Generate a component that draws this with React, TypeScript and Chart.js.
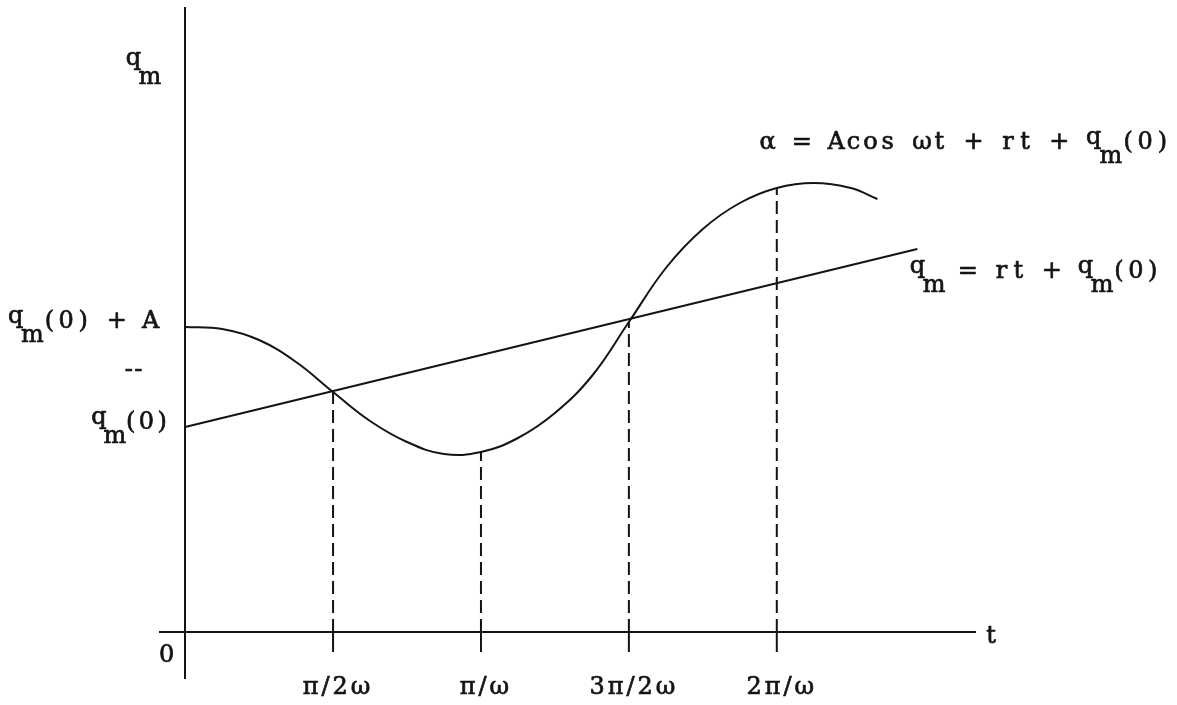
import React, { useEffect, useRef } from "react";
import { Chart, registerables } from "chart.js";

Chart.register(...registerables);

// Time is measured in quarter periods: 1 unit on the t axis = π/2ω.
const curveT = [0, 0.25, 0.5, 0.75, 1, 1.25, 1.5, 1.75, 2, 2.25, 2.5, 2.75, 3, 3.25, 3.5, 3.75, 4, 4.25, 4.5, 4.68];
const curveQ = [3.05, 3.03, 2.92, 2.7, 2.4, 2.11, 1.9, 1.78, 1.8, 1.94, 2.19, 2.56, 3.1, 3.64, 4.03, 4.29, 4.44, 4.49, 4.44, 4.33];

// Straight ramp q_m = rt + q_m(0)
const rampT = [0, 4.95];
const rampQ = [2.05, 3.83];

// Marked instants on the t axis and their labels
const markT = [1, 2, 3, 4];
const markLabels = ["π/2ω", "π/ω", "3π/2ω", "2π/ω"];

// Reference levels named on the q axis
const qStart = 2.05; // q_m(0)
const amplitude = 1.0; // A

const tRange = [-0.17, 5.34];
const qRange = [-0.46, 6.24];
const stubDepth = 0.2;

const INK = "#141414";
const FONT_FAMILY = "'DejaVu Serif', serif";
const FONT_SIZE = 24;
const TICK_SPACING = "3px";
const TEXT_WEIGHT = 0.7; // extra stroke that thickens the typed glyphs

type Run = { text: string; shift: number };

// Typewriter-style runs: q is set half a notch up, the subscript m a notch down.
const qm = (): Run[] => [
  { text: "q", shift: -5 },
  { text: "m", shift: 14 },
];

// Sets every character in its own cell of equal pitch, like a typewriter.
function drawRuns(
  ctx: CanvasRenderingContext2D,
  runs: Run[],
  left: number,
  right: number,
  baseline: number
) {
  const count = runs.reduce((s, r) => s + Array.from(r.text).length, 0);
  const pitch = (right - left) / count;
  ctx.textAlign = "center";
  let cell = 0;
  runs.forEach((r) => {
    Array.from(r.text).forEach((ch) => {
      if (ch !== " ") {
        const cx = left + (cell + 0.5) * pitch;
        ctx.strokeText(ch, cx, baseline + r.shift);
        ctx.fillText(ch, cx, baseline + r.shift);
      }
      cell += 1;
    });
  });
}

const annotations = {
  id: "annotations",
  beforeDraw(chart: any) {
    // wider pitch for the t axis labels
    chart.ctx.letterSpacing = TICK_SPACING;
  },
  beforeDatasetsDraw(chart: any) {
    chart.ctx.letterSpacing = "0px";
  },
  afterDraw(chart: any) {
    const { ctx, scales } = chart;
    const xs = scales.x;
    const ys = scales.y;
    const ox = xs.getPixelForValue(0);
    const oy = ys.getPixelForValue(0);
    ctx.save();
    ctx.letterSpacing = "0px";
    ctx.fillStyle = INK;
    ctx.strokeStyle = INK;
    ctx.lineWidth = TEXT_WEIGHT;
    ctx.lineJoin = "round";
    ctx.font = `${FONT_SIZE}px ${FONT_FAMILY}`;
    ctx.textBaseline = "alphabetic";

    // q axis name
    drawRuns(ctx, qm(), ox - 60, ox - 27, ys.getPixelForValue(5.62));

    // levels q_m(0) + A and q_m(0)
    const yTop = ys.getPixelForValue(qStart + amplitude) + 1;
    drawRuns(ctx, [...qm(), { text: "(0) + A", shift: 0 }], ox - 178, ox - 26, yTop);
    const yBase = ys.getPixelForValue(qStart) + 2;
    drawRuns(ctx, [...qm(), { text: "(0)", shift: 0 }], ox - 94, ox - 15, yBase);

    // small hyphen pair between the two levels
    drawRuns(ctx, [{ text: "--", shift: 0 }], ox - 61, ox - 42, ys.getPixelForValue(qStart + 0.5));

    // origin and t axis name
    drawRuns(ctx, [{ text: "0", shift: 0 }], ox - 27, ox - 10, oy + 30);
    drawRuns(ctx, [{ text: "t", shift: 0 }], xs.right + 8, xs.right + 24, oy + 11);

    // curve and ramp equations
    drawRuns(
      ctx,
      [{ text: "α = Acos ωt + rt + ", shift: 0 }, ...qm(), { text: "(0)", shift: 0 }],
      759,
      1171,
      ys.getPixelForValue(4.83)
    );
    drawRuns(
      ctx,
      [...qm(), { text: " = rt + ", shift: 0 }, ...qm(), { text: "(0)", shift: 0 }],
      909,
      1161,
      ys.getPixelForValue(3.54)
    );
    ctx.restore();
  },
};

function valueAt(t: number): number {
  const i = curveT.indexOf(t);
  return i >= 0 ? curveQ[i] : 0;
}

export default function App() {
  const canvasRef = useRef<HTMLCanvasElement | null>(null);

  useEffect(() => {
    const canvas = canvasRef.current;
    if (!canvas) return;

    const solid = {
      borderColor: INK,
      borderWidth: 2,
      pointRadius: 0,
      fill: false,
    };

    const datasets: any[] = [
      {
        ...solid,
        label: "α",
        data: curveT.map((t, i) => ({ x: t, y: curveQ[i] })),
        tension: 0.4,
      },
      {
        ...solid,
        label: "q_m",
        data: rampT.map((t, i) => ({ x: t, y: rampQ[i] })),
        tension: 0,
      },
      ...markT.map((t) => ({
        ...solid,
        label: `guide ${t}`,
        data: [
          { x: t, y: 0 },
          { x: t, y: valueAt(t) },
        ],
        borderDash: [13, 6],
        tension: 0,
      })),
      ...markT.map((t) => ({
        ...solid,
        label: `stub ${t}`,
        data: [
          { x: t, y: -stubDepth },
          { x: t, y: 0 },
        ],
        tension: 0,
      })),
    ];

    const chart = new Chart(canvas, {
      type: "line",
      data: { datasets },
      options: {
        animation: false,
        responsive: false,
        devicePixelRatio: 1,
        layout: { padding: { left: 160, right: 202, top: 8, bottom: 27 } },
        plugins: {
          legend: { display: false },
          tooltip: { enabled: false },
        },
        scales: {
          x: {
            type: "linear",
            position: { y: 0 } as any,
            min: tRange[0],
            max: tRange[1],
            border: { display: true, color: INK, width: 2 },
            grid: { display: true, drawOnChartArea: false, drawTicks: false, color: "rgba(0,0,0,0)" },
            afterBuildTicks: (scale: any) => {
              scale.ticks = markT.map((v) => ({ value: v }));
            },
            ticks: {
              autoSkip: false,
              maxRotation: 0,
              padding: 41,
              labelOffset: 5,
              color: INK,
              textStrokeColor: INK,
              textStrokeWidth: TEXT_WEIGHT,
              font: { family: FONT_FAMILY, size: FONT_SIZE, lineHeight: 1.2 },
              callback: (value: any) => {
                const i = markT.indexOf(Number(value));
                return i >= 0 ? markLabels[i] : "";
              },
            } as any,
          },
          y: {
            type: "linear",
            position: { x: 0 } as any,
            min: qRange[0],
            max: qRange[1],
            border: { display: true, color: INK, width: 2 },
            grid: { display: true, drawOnChartArea: false, drawTicks: false, color: "rgba(0,0,0,0)" },
            ticks: { display: false },
          },
        },
      },
      plugins: [annotations],
    });

    return () => chart.destroy();
  }, []);

  return (
    <div style={{ position: "fixed", left: 0, top: 0, width: 1177, height: 705, background: "#fff" }}>
      <canvas ref={canvasRef} width={1177} height={705} />
    </div>
  );
}
